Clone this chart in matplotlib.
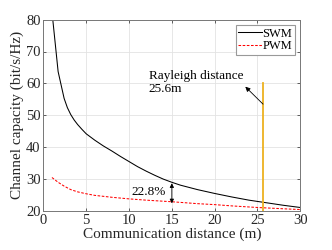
import matplotlib
matplotlib.use("Agg")
import matplotlib.pyplot as plt

plt.rcParams['font.family'] = ['Liberation Serif', 'DejaVu Serif']

# Data
swm_d = [1.0, 1.72, 2.42, 2.8, 3.2, 3.6, 4.0, 4.5, 5.0, 6.0, 7.0, 8.0, 9.0, 10, 11, 12, 13, 14, 15, 16, 18, 20, 22, 24, 26, 28, 30]
swm_c = [82.5, 63.7, 55.3, 52.4, 50.2, 48.5, 47.1, 45.6, 44.2, 42.2, 40.4, 38.8, 37.1, 35.5, 33.9, 32.5, 31.2, 30.0, 29.0, 28.1, 26.7, 25.5, 24.4, 23.4, 22.6, 21.8, 21.1]
pwm_d = [1.0, 1.72, 2.42, 3.2, 4.0, 5.0, 6.0, 8.0, 10, 12, 15, 18, 20, 22, 25, 28, 30]
pwm_c = [30.5, 29.0, 27.8, 26.7, 26.0, 25.4, 24.9, 24.3, 23.8, 23.4, 22.9, 22.3, 22.0, 21.6, 21.1, 20.7, 20.45]
rayleigh_d = 25.6
rayleigh_top = 60
gap_d = 15.0
gap_hi = 28.7
gap_lo = 22.4
x_ticks = [0, 5, 10, 15, 20, 25, 30]
y_ticks = [20, 30, 40, 50, 60, 70, 80]

fig = plt.figure(figsize=(3.32, 2.5), dpi=100)
ax = fig.add_axes([0.1307, 0.156, 0.9045 - 0.1307, 0.9216 - 0.156])

ax.plot(swm_d, swm_c, color='black', lw=0.75, label='SWM')
ax.plot(pwm_d, pwm_c, color='#ff0000', lw=0.75, ls=(0, (2.5, 1.5)), label='PWM')
ax.plot([rayleigh_d, rayleigh_d], [20, rayleigh_top], color='#EDB120', lw=1.3)

ax.set_xlim(0, 30)
ax.set_ylim(20, 80)
ax.set_xticks(x_ticks)
ax.set_yticks(y_ticks)
ax.grid(True, color='#e3e3e3', lw=0.6)
ax.set_axisbelow(True)
ax.tick_params(direction='in', length=2.5, width=0.5, top=True, right=True,
               labelsize=10.5, colors='#262626', pad=2)
for s in ax.spines.values():
    s.set_color('#777777')
    s.set_linewidth(0.7)

ax.set_xlabel('Communication distance (m)', fontsize=11, color='#262626', labelpad=0.5)
ax.set_ylabel('Channel capacity (bit/s/Hz)', fontsize=11, color='#262626', labelpad=1.5)

# Rayleigh annotation
ax.text(12.3, 60.3, 'Rayleigh distance\n25.6m', fontsize=9.5, ha='left', va='center',
        linespacing=1.15, color='black')
ax.annotate('', xy=(23.58, 58.97), xytext=(25.65, 53.5),
            arrowprops=dict(arrowstyle='-|>', color='black', lw=0.6,
                            mutation_scale=7, shrinkA=0, shrinkB=0))

# Gap annotation
ax.annotate('', xy=(gap_d, gap_hi), xytext=(gap_d, gap_lo),
            arrowprops=dict(arrowstyle='<|-|>', color='black', lw=0.6,
                            mutation_scale=6, shrinkA=0, shrinkB=0))
ax.text(10.33, 26.05, '22.8%', fontsize=9.5, ha='left', va='center', color='black')

leg = ax.legend(loc='upper right', fontsize=9, handlelength=1.9, handletextpad=0.05,
                borderpad=0.2, labelspacing=0.05, borderaxespad=0.45, fancybox=False,
                framealpha=1)
leg.get_frame().set_edgecolor('#999999')
leg.get_frame().set_linewidth(0.8)

fig.savefig('out.png', dpi=100)
